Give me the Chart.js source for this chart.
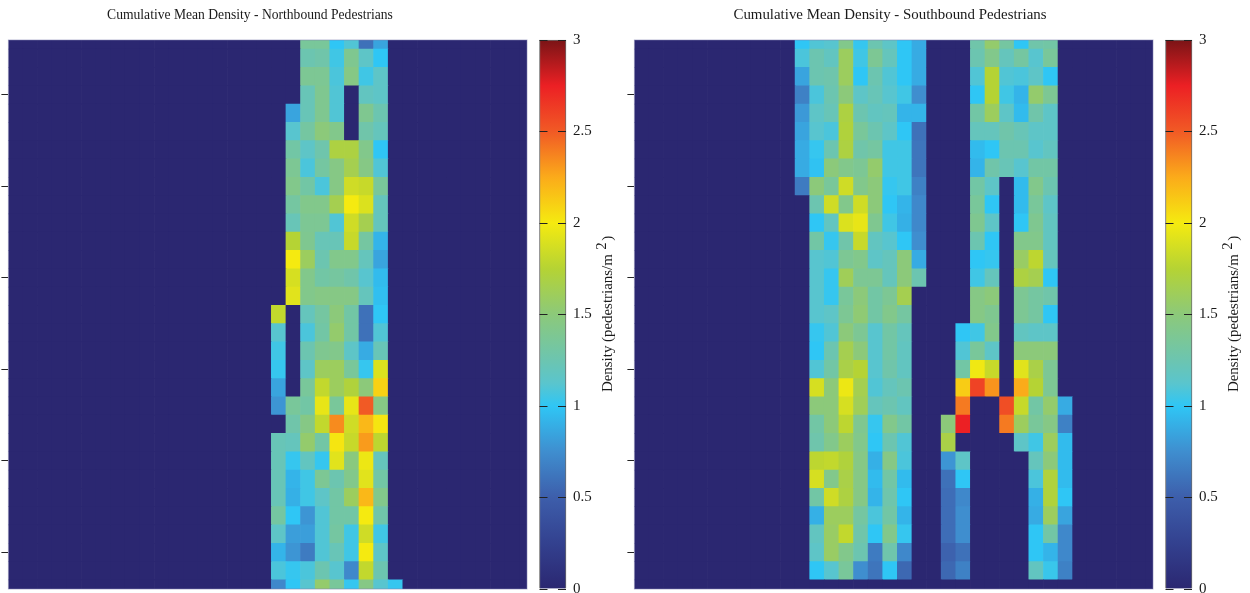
<!DOCTYPE html>
<html>
<head>
<meta charset="utf-8">
<title>Cumulative Mean Density</title>
<script src="https://cdn.jsdelivr.net/npm/chart.js@4/dist/chart.umd.min.js"></script>
<style>
  html, body { margin: 0; padding: 0; background: #fff; overflow: hidden; }
  canvas { position: absolute; top: 0; }
</style>
</head>
<body>
<canvas id="northMap" width="535" height="620" style="left:0"></canvas>
<canvas id="northBar" width="90" height="620" style="left:530px"></canvas>
<canvas id="southMap" width="535" height="620" style="left:626px"></canvas>
<canvas id="southBar" width="90" height="620" style="left:1156px"></canvas>
<script>
const northTitle = "Cumulative Mean Density - Northbound Pedestrians";
const southTitle = "Cumulative Mean Density - Southbound Pedestrians";
const barLabel = ["Density (pedestrians/m", "2", ")"];
const rowTicks = [3, 8, 13, 18, 23, 28];
const barTicks = [0, 0.5, 1, 1.5, 2, 2.5, 3];
const columnCount = 35.5;
const rowCount = 30;

// colour map
const stopValues = [0, 0.25, 0.5, 0.75, 1, 1.125, 1.25, 1.5, 1.75, 2, 2.25, 2.5, 2.75, 3];
const stopColors = [
  [43, 39, 113], [51, 65, 143], [61, 94, 171], [63, 142, 207], [47, 198, 245], [90, 197, 205],
  [108, 197, 176], [140, 201, 122], [181, 211, 52], [245, 234, 16],
  [251, 171, 26], [241, 90, 37], [236, 32, 36], [122, 20, 22],
];

// density per row, columns 18 to 26
const northFirstColumn = 18;
const northRows = [
  [0, 0, 1.35, 1.35, 1.0, 1.1, 0.6, 0.85, 0],
  [0, 0, 1.25, 1.28, 1.05, 1.4, 1.15, 1.0, 0],
  [0, 0, 1.38, 1.38, 1.08, 1.45, 1.05, 1.15, 0],
  [0, 0, 1.22, 1.4, 1.1, 0, 1.18, 1.15, 0],
  [0, 0.85, 1.22, 1.4, 1.1, 0, 1.4, 1.25, 0],
  [0, 1.12, 1.32, 1.5, 1.42, 0, 1.28, 1.2, 0],
  [0, 1.3, 1.15, 1.27, 1.7, 1.7, 1.42, 1.0, 0],
  [0, 1.38, 1.08, 1.32, 1.45, 1.65, 1.45, 1.1, 0],
  [0, 1.42, 1.3, 1.08, 1.45, 1.85, 1.82, 1.35, 0],
  [0, 1.32, 1.42, 1.42, 1.65, 2.0, 1.9, 1.2, 0],
  [0, 1.22, 1.38, 1.38, 1.1, 1.85, 1.65, 1.2, 0],
  [0, 1.75, 1.4, 1.22, 1.22, 1.82, 1.32, 0.92, 0],
  [0, 2.0, 1.6, 1.25, 1.42, 1.42, 1.2, 0.85, 0],
  [0, 1.88, 1.42, 1.3, 1.33, 1.28, 1.12, 0.95, 0],
  [0, 1.92, 1.42, 1.45, 1.45, 1.45, 1.2, 0.97, 0],
  [1.8, 0, 1.2, 1.32, 1.5, 1.3, 0.6, 1.0, 0],
  [1.12, 0, 1.08, 1.3, 1.55, 1.3, 0.6, 1.1, 0],
  [1.05, 0, 1.25, 1.4, 1.42, 1.15, 0.88, 1.22, 0],
  [1.02, 0, 1.15, 1.6, 1.6, 1.35, 1.02, 1.9, 0],
  [0.85, 0, 1.35, 1.8, 1.6, 1.72, 1.5, 2.1, 0],
  [0.78, 1.35, 1.3, 1.95, 1.35, 1.95, 2.5, 1.45, 0],
  [0, 1.28, 1.45, 1.8, 2.35, 1.85, 2.2, 2.02, 0],
  [1.22, 1.2, 1.55, 1.3, 2.02, 1.82, 2.3, 1.78, 0],
  [1.22, 1.02, 1.18, 1.02, 1.92, 1.48, 1.97, 1.2, 0],
  [1.22, 0.92, 1.05, 1.38, 1.25, 1.42, 1.92, 1.3, 0],
  [1.22, 0.9, 1.05, 1.15, 1.3, 1.6, 2.2, 1.42, 0],
  [1.32, 1.0, 0.78, 1.1, 1.3, 1.3, 2.0, 1.28, 0],
  [1.15, 0.82, 0.82, 1.1, 1.32, 1.05, 1.85, 1.05, 0],
  [0.92, 0.78, 0.65, 1.1, 1.22, 1.05, 2.0, 1.15, 0],
  [1.08, 1.02, 1.08, 1.25, 1.12, 0.72, 1.8, 1.25, 0],
  [0.72, 1.0, 1.12, 1.55, 1.35, 1.02, 1.45, 1.12, 1.02],
];

// density per row, columns 11 to 29
const southFirstColumn = 11;
const southRows = [
  [1.0, 1.1, 1.12, 1.42, 1.02, 1.25, 1.15, 1.0, 0.88, 0, 0, 0, 1.28, 1.55, 1.32, 1.0, 1.28, 1.3, 0],
  [1.08, 1.25, 1.18, 1.6, 1.05, 1.38, 1.2, 1.0, 0.88, 0, 0, 0, 1.25, 1.42, 1.2, 1.32, 1.12, 1.35, 0],
  [0.85, 1.25, 1.27, 1.6, 1.0, 1.25, 1.1, 1.0, 0.88, 0, 0, 0, 1.1, 1.75, 1.1, 1.08, 1.15, 1.0, 0],
  [0.68, 1.08, 1.25, 1.5, 1.15, 1.22, 1.12, 1.05, 0.75, 0, 0, 0, 1.0, 1.75, 1.05, 0.92, 1.55, 1.38, 0],
  [0.8, 1.15, 1.22, 1.7, 1.25, 1.18, 1.2, 0.92, 0.92, 0, 0, 0, 1.3, 1.6, 1.15, 0.95, 1.28, 1.15, 0],
  [0.85, 1.12, 1.08, 1.72, 1.35, 1.25, 1.15, 1.0, 0.6, 0, 0, 0, 1.2, 1.2, 1.28, 1.22, 1.15, 1.15, 0],
  [0.88, 1.02, 1.25, 1.7, 1.28, 1.32, 1.05, 1.05, 0.62, 0, 0, 0, 0.95, 1.0, 1.25, 1.25, 1.12, 1.18, 0],
  [0.88, 0.98, 1.5, 1.42, 1.38, 1.55, 1.05, 1.05, 0.62, 0, 0, 0, 0.92, 1.28, 1.22, 1.12, 1.3, 1.3, 0],
  [0.65, 1.5, 1.35, 1.85, 1.42, 1.5, 1.02, 1.05, 0.68, 0, 0, 0, 1.3, 1.15, 0, 0.95, 1.42, 1.25, 0],
  [0, 1.25, 1.85, 1.42, 1.85, 1.5, 1.0, 0.92, 0.72, 0, 0, 0, 1.35, 1.0, 0, 0.95, 1.35, 1.15, 0],
  [0, 1.0, 1.18, 1.9, 1.95, 1.4, 1.05, 0.9, 0.72, 0, 0, 0, 1.4, 1.15, 0, 1.0, 1.4, 1.18, 0],
  [0, 1.3, 1.02, 1.28, 1.82, 1.18, 1.12, 1.0, 0.75, 0, 0, 0, 1.25, 1.0, 0, 1.42, 1.42, 1.18, 0],
  [0, 1.12, 1.1, 1.38, 1.42, 1.15, 1.2, 1.5, 0.88, 0, 0, 0, 1.0, 1.02, 0, 1.58, 1.78, 1.2, 0],
  [0, 1.12, 1.02, 1.62, 1.38, 1.38, 1.2, 1.5, 1.25, 0, 0, 0, 1.05, 1.2, 0, 1.7, 1.65, 1.0, 0],
  [0, 1.12, 1.02, 1.35, 1.5, 1.3, 1.38, 1.65, 0, 0, 0, 0, 1.45, 1.5, 0, 1.38, 1.32, 1.28, 0],
  [0, 1.12, 1.15, 1.38, 1.52, 1.3, 1.42, 1.32, 0, 0, 0, 0, 1.45, 1.4, 0, 1.38, 1.32, 1.0, 0],
  [0, 1.02, 1.1, 1.5, 1.38, 1.12, 1.3, 1.2, 0, 0, 0, 1.0, 1.05, 1.42, 0, 1.18, 1.15, 1.15, 0],
  [0, 1.0, 1.25, 1.65, 1.5, 1.12, 1.3, 1.18, 0, 0, 0, 1.1, 1.35, 1.15, 0, 1.5, 1.5, 1.5, 0],
  [0, 1.1, 1.3, 1.68, 1.75, 1.12, 1.28, 1.18, 0, 0, 0, 1.3, 1.98, 1.82, 0, 1.92, 1.68, 1.38, 0],
  [0, 1.88, 1.5, 1.97, 1.65, 1.1, 1.2, 1.25, 0, 0, 0, 2.12, 2.6, 2.32, 0, 2.25, 1.75, 1.38, 0],
  [0, 1.5, 1.5, 1.88, 1.62, 1.2, 1.25, 1.18, 0, 0, 0, 2.4, 0, 0, 2.55, 1.82, 1.3, 1.55, 0.88],
  [0, 1.3, 1.5, 1.78, 1.4, 1.02, 1.42, 1.3, 0, 0, 1.5, 2.75, 0, 0, 2.4, 1.6, 1.35, 1.45, 0.68],
  [0, 1.27, 1.42, 1.6, 1.42, 1.0, 1.25, 1.1, 0, 0, 1.68, 0, 0, 0, 0, 1.15, 1.05, 1.6, 0.95],
  [0, 1.78, 1.8, 1.72, 1.45, 0.9, 1.45, 1.08, 0, 0, 0.78, 1.15, 0, 0, 0, 0, 1.2, 1.5, 0.95],
  [0, 1.88, 1.42, 1.68, 1.45, 0.95, 1.3, 0.95, 0, 0, 0.6, 1.0, 0, 0, 0, 0, 1.08, 1.72, 0.95],
  [0, 1.3, 1.85, 1.7, 1.45, 0.92, 1.27, 1.0, 0, 0, 0.58, 0.72, 0, 0, 0, 0, 0.9, 1.72, 1.0],
  [0, 0.9, 1.6, 1.6, 1.32, 1.08, 1.3, 0.92, 0, 0, 0.58, 0.75, 0, 0, 0, 0, 0.88, 1.6, 0.85],
  [0, 1.18, 1.58, 1.8, 1.28, 1.0, 1.42, 1.02, 0, 0, 0.58, 0.75, 0, 0, 0, 0, 1.0, 1.3, 0.72],
  [0, 1.15, 1.58, 1.42, 1.25, 0.65, 1.27, 0.72, 0, 0, 0.52, 0.6, 0, 0, 0, 0, 1.0, 0.92, 0.72],
  [0, 1.0, 1.12, 1.35, 0.75, 0.62, 1.0, 0.55, 0, 0, 0.55, 0.68, 0, 0, 0, 0, 1.18, 1.03, 0.68],
  [0, 0, 0, 0, 0, 0, 0, 0, 0, 0, 0, 0, 0, 0, 0, 0, 0, 0, 0],
];

const serif = "'Liberation Serif', serif";

function densityColor(v) {
  let i = 0;
  while (i < stopValues.length - 2 && v > stopValues[i + 1]) i++;
  const t = (v - stopValues[i]) / (stopValues[i + 1] - stopValues[i]);
  const c = stopColors[i].map((a, k) => Math.round(a + (stopColors[i + 1][k] - a) * t));
  return `rgb(${c[0]}, ${c[1]}, ${c[2]})`;
}

// turns the strip of columns into one floating bar per cell
function buildCells(rows, firstColumn) {
  const cells = [];
  rows.forEach((row, r) => {
    for (let col = 0; col < Math.ceil(columnCount); col++) {
      const value = row[col - firstColumn] || 0;
      cells.push({ x: col + 0.5, y: [r - 0.5, r + 0.5], density: value });
    }
  });
  return cells;
}

const panelTitle = {
  id: "panelTitle",
  afterDraw(chart, args, opts) {
    const { ctx, chartArea } = chart;
    ctx.save();
    ctx.strokeStyle = "rgba(130, 130, 175, 0.55)";
    ctx.lineWidth = 1;
    ctx.strokeRect(chartArea.left, chartArea.top, chartArea.width, chartArea.height);
    ctx.fillStyle = "#1a1a1a";
    ctx.font = `${opts.size}px ${serif}`;
    ctx.textAlign = "center";
    ctx.textBaseline = "middle";
    ctx.fillText(opts.text, opts.x, 15);
    ctx.restore();
  },
};

// rotated axis text, the plain axis title can't do the superscript
const densityLabel = {
  id: "densityLabel",
  afterDraw(chart) {
    const { ctx } = chart;
    ctx.save();
    ctx.translate(78.5, 392);
    ctx.rotate(-Math.PI / 2);
    ctx.fillStyle = "#1a1a1a";
    ctx.font = `14.9px ${serif}`;
    ctx.textBaseline = "middle";
    ctx.fillText(barLabel[0], 0, 0);
    const w = ctx.measureText(barLabel[0]).width;
    ctx.fillText(barLabel[1], w + 4.5, -6.5);
    ctx.fillText(barLabel[2], w + 13.5, 0);
    ctx.restore();
  },
};

function drawMap(id, rows, firstColumn, title, titleX, titleSize) {
  return new Chart(document.getElementById(id), {
    type: "bar",
    plugins: [panelTitle],
    data: {
      datasets: [
        {
          data: buildCells(rows, firstColumn),
          backgroundColor: (c) => densityColor(c.raw ? c.raw.density : 0),
          barPercentage: 1,
          categoryPercentage: 1,
          borderWidth: 0,
        },
      ],
    },
    options: {
      responsive: false,
      animation: false,
      layout: { padding: { left: 1.4, top: 40, right: 8, bottom: 31 } },
      plugins: {
        legend: { display: false },
        tooltip: { enabled: false },
        panelTitle: { text: title, x: titleX, size: titleSize },
      },
      scales: {
        x: {
          type: "linear",
          offset: false,
          min: 0,
          max: columnCount,
          display: false,
          afterBuildTicks: (s) => { s.ticks = []; },
        },
        y: {
          min: 0,
          max: rowCount,
          reverse: true,
          afterBuildTicks: (s) => { s.ticks = rowTicks.map((v) => ({ value: v })); },
          ticks: { display: false },
          border: { display: false },
          grid: { drawOnChartArea: false, drawTicks: true, tickLength: 7, color: "#222", lineWidth: 1 },
        },
      },
    },
  });
}

function drawColorBar(id) {
  return new Chart(document.getElementById(id), {
    type: "bar",
    plugins: [densityLabel],
    data: {
      labels: [""],
      datasets: [
        {
          data: [[barTicks[0], barTicks[barTicks.length - 1]]],
          backgroundColor: (c) => {
            const { chartArea, ctx, scales } = c.chart;
            if (!chartArea) return "#000";
            const g = ctx.createLinearGradient(0, scales.y.getPixelForValue(0), 0, scales.y.getPixelForValue(3));
            stopValues.forEach((v) => g.addColorStop(v / 3, densityColor(v)));
            return g;
          },
          borderColor: "#6b6b6b",
          borderWidth: 1,
          barPercentage: 1,
          categoryPercentage: 1,
          clip: false,
        },
      ],
    },
    options: {
      responsive: false,
      animation: false,
      layout: { padding: { left: 9.5, top: 40, right: 0, bottom: 31 } },
      plugins: { legend: { display: false }, tooltip: { enabled: false } },
      scales: {
        x: { display: false },
        y: {
          position: "right",
          min: 0,
          max: 3,
          afterBuildTicks: (s) => { s.ticks = barTicks.map((v) => ({ value: v })); },
          afterFit: (s) => { s.width = 54; },
          border: { display: false, dash: [8, 10.5, 8, 100] },
          grid: { z: 1, color: "#222", drawTicks: false, lineWidth: 1 },
          ticks: {
            padding: 7,
            color: "#1a1a1a",
            font: { family: serif, size: 15 },
            callback: (v) => String(v),
          },
        },
      },
    },
  });
}

drawMap("northMap", northRows, northFirstColumn, northTitle, 250, 13.6);
drawColorBar("northBar");
drawMap("southMap", southRows, southFirstColumn, southTitle, 264, 14.9);
drawColorBar("southBar");
</script>
</body>
</html>
